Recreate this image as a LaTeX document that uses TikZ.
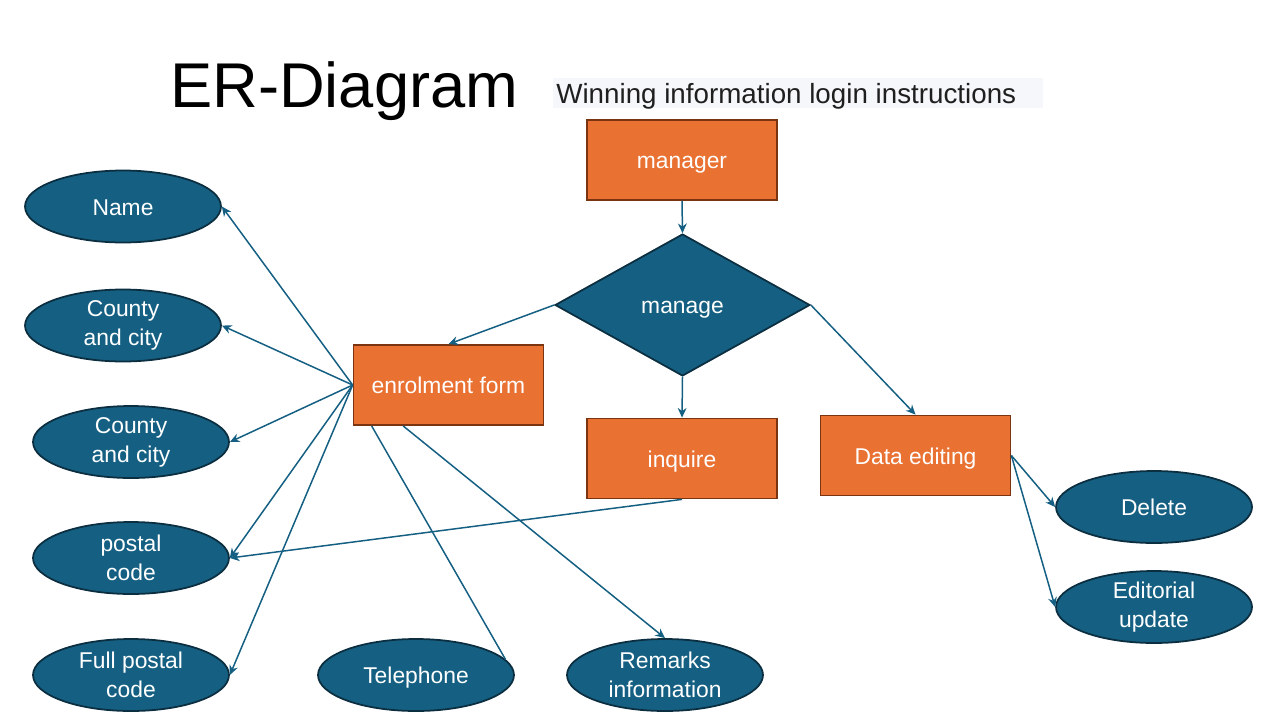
\documentclass[tikz,border=0pt]{standalone}
\usepackage{fontspec}
\setmainfont{Liberation Sans}
\usepackage{tikz}
\definecolor{erOrange}{HTML}{E97132}
\definecolor{erBrown}{HTML}{7A3510}
\definecolor{erBlue}{HTML}{156082}
\definecolor{erNavy}{HTML}{0B2E40}
\definecolor{subGray}{HTML}{F5F7FA}
\usetikzlibrary{shapes.geometric}
\usetikzlibrary{arrows.meta}
\newcommand\erfont{\fontsize{13}{16.5}\selectfont}

\begin{document}
\begin{tikzpicture}[x=0.02cm,y=-0.02cm,
        oneLine/.style={text height=0.98em,text depth=0pt},
        entity/.style={rectangle,draw=erBrown,fill=erOrange,line width=1pt,minimum width=3.8cm,minimum height=1.6cm,text=white,font=\erfont,oneLine},
        attrib/.style={ellipse,draw=erNavy,fill=erBlue,line width=1pt,minimum width=3.92cm,minimum height=1.44cm,inner sep=0pt,text=white,align=center,font=\erfont},
        relation/.style={diamond,draw=erNavy,fill=erBlue,line width=1pt,minimum width=5.1cm,minimum height=2.84cm,inner sep=0pt,text=white,font=\erfont,oneLine},
        link/.style={draw=erBlue,line width=0.85pt,-{Stealth[length=5.5pt,width=5pt]}}]
        \useasboundingbox (0,0) rectangle (1280,720);

        \node[anchor=base west,inner sep=0pt,font=\fontsize{36}{40}\selectfont] (title) at (170,107) {ER-Diagram};
        \fill[subGray] (553,78) rectangle (1043,108);
        \node[anchor=base west,inner sep=0pt,font=\fontsize{15.8}{19}\selectfont,text=black!88] (subtitle) at (556,103) {Winning information login instructions};

        \node[entity]   (manager)   at (682,  160)   {manager};
        \node[relation] (manage)    at (682.5,305)   {manage};
        \node[entity]   (enrolForm) at (448.5,385)   {enrolment form};
        \node[entity]   (inquire)   at (682,  458.5) {inquire};
        \node[entity]   (dataEdit)  at (915.5,455.5) {Data editing};

        \node[attrib,oneLine] (name)       at (123, 206.5) {Name};
        \node[attrib]         (county1)    at (123, 325.5) {County\\and city};
        \node[attrib]         (county2)    at (131, 442)   {County\\and city};
        \node[attrib]         (postal)     at (131, 558)   {postal\\code};
        \node[attrib]         (fullPostal) at (131, 675)   {Full postal\\code};
        \node[attrib,oneLine] (phone)      at (416, 675)   {Telephone};
        \node[attrib]         (remarks)    at (665, 675)   {Remarks\\information};
        \node[attrib,oneLine] (delete)     at (1154,507)   {Delete};
        \node[attrib]         (editUpdate) at (1154,607)   {Editorial\\update};

        \draw[link] (manager.south) -- (manage.north);
        \draw[link] (manage.west)   -- (enrolForm.north);
        \draw[link] (manage.south)  -- (inquire.north);
        \draw[link] (manage.east)   -- (dataEdit.north);

        \foreach \attr in {name,county1,county2,postal,fullPostal}
            \draw[link] (enrolForm.west) -- (\attr.east);
        \draw[link,-] (enrolForm.208) -- (phone.10);
        \draw[link]   (enrolForm.222) -- (remarks.north);
        \draw[link]   (inquire.south) -- (postal.east);

        \draw[link] (dataEdit.east) -- (delete.west);
        \draw[link] (dataEdit.east) -- (editUpdate.west);
    \end{tikzpicture}
\end{document}
